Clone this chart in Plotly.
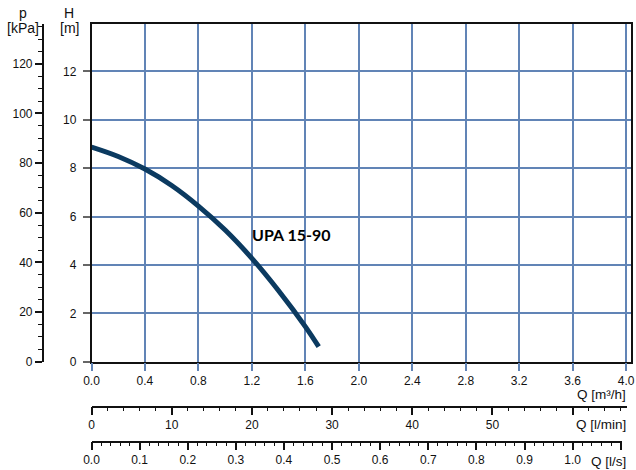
import plotly.graph_objects as go

# ---- data ----
q_m3h = [0.0, 0.2, 0.4, 0.6, 0.8, 1.0, 1.2, 1.4, 1.6, 1.7]
h_m = [8.87, 8.48, 7.96, 7.28, 6.43, 5.44, 4.27, 2.93, 1.45, 0.62]
curve_name = "UPA 15-90"

x_ticks = [0.0, 0.4, 0.8, 1.2, 1.6, 2.0, 2.4, 2.8, 3.2, 3.6, 4.0]
h_ticks = [0, 2, 4, 6, 8, 10, 12]
p_ticks = [0, 20, 40, 60, 80, 100, 120]
lmin_ticks = [0, 10, 20, 30, 40, 50, 60]
lmin_labels = ["0", "10", "20", "30", "40", "50", ""]
ls_ticks = [0.0, 0.1, 0.2, 0.3, 0.4, 0.5, 0.6, 0.7, 0.8, 0.9, 1.0, 1.1]
ls_labels = ["0.0", "0.1", "0.2", "0.3", "0.4", "0.5", "0.6", "0.7", "0.8", "0.9", "1.0", ""]

W, H = 636, 470
px_per_q = 133.65
x0, x_right = 91.5, 631.0
y_bot, y_top = 361.7, 24.3
px_per_m = 24.2
kpa_per_m = 9.75

def fx(px):
    return px / W

def fy(py):
    return (H - py) / H

xmax = (x_right - x0) / px_per_q
hmax = (y_bot - y_top) / px_per_m
pmax = hmax * kpa_per_m
lmin_end, ls_end = 627.0, 622.0
lmin_max = (lmin_end - x0) / px_per_q * 50 / 3
ls_max = (ls_end - x0) / px_per_q / 3.6

GRID = "#6184b6"
NAVY = "#0b3a60"
TXT = "#111111"
FONT = "Liberation Sans, Arial, sans-serif"
YDOM = [fy(y_bot), fy(y_top)]
TF = dict(family=FONT, size=12, color=TXT)

fig = go.Figure()
fig.add_trace(go.Scatter(x=q_m3h, y=h_m, mode="lines", line=dict(color=NAVY, width=5, shape="spline"),
                         showlegend=False, hoverinfo="skip"))
# dummy traces to register the extra axes
fig.add_trace(go.Scatter(x=[0], y=[0], xaxis="x2", yaxis="y3", mode="markers",
                         marker=dict(opacity=0), showlegend=False, hoverinfo="skip"))
fig.add_trace(go.Scatter(x=[0], y=[0], xaxis="x3", yaxis="y4", mode="markers",
                         marker=dict(opacity=0), showlegend=False, hoverinfo="skip"))
fig.add_trace(go.Scatter(x=[0], y=[0], xaxis="x", yaxis="y2", mode="markers",
                         marker=dict(opacity=0), showlegend=False, hoverinfo="skip"))

fig.update_layout(
    template="none",
    width=W, height=H,
    margin=dict(l=0, r=0, t=0, b=0, autoexpand=False),
    paper_bgcolor="white", plot_bgcolor="rgba(0,0,0,0)",
    font=dict(family=FONT, size=12, color=TXT),
    xaxis=dict(domain=[fx(x0), fx(x_right)], range=[0, xmax], tickmode="array", tickvals=x_ticks,
               ticktext=[f"{v:.1f}" for v in x_ticks], automargin=False, tickfont=TF,
               showgrid=True, gridcolor=GRID, gridwidth=1.5, zeroline=False,
               showline=True, linecolor="#111111", linewidth=1.5, mirror=True,
               ticks="outside", ticklen=8, tickcolor=GRID, tickwidth=1.5,
               ticklabelstandoff=-1, anchor="y"),
    yaxis=dict(domain=YDOM, range=[0, hmax], tickmode="array", tickvals=h_ticks, automargin=False,
               tickfont=TF,
               showgrid=True, gridcolor=GRID, gridwidth=1.5, zeroline=False,
               showline=True, linecolor="#111111", linewidth=1.5, mirror=True,
               ticks="outside", ticklen=7, tickcolor="#666666", tickwidth=1.5,
               ticklabelstandoff=4, anchor="x"),
    xaxis2=dict(domain=[fx(x0), fx(lmin_end)], range=[0, lmin_max], anchor="free", position=fy(406.7),
                tickmode="array", tickvals=lmin_ticks, ticktext=lmin_labels, automargin=False,
                tickfont=TF, ticklabelstandoff=-1,
                showgrid=False, zeroline=False, showline=True, linecolor="#111111", linewidth=1.5,
                ticks="outside", ticklen=8, tickcolor="#111111", tickwidth=1.5,
                minor=dict(tickmode="array", tickvals=[v for v in range(2, 67, 2) if v % 10 != 0],
                           ticks="outside", ticklen=4, tickcolor="#111111", tickwidth=1, showgrid=False)),
    xaxis3=dict(domain=[fx(x0), fx(ls_end)], range=[0, ls_max], anchor="free", position=fy(441.7),
                tickmode="array", tickvals=ls_ticks, ticktext=ls_labels, automargin=False,
                tickfont=TF, ticklabelstandoff=-1,
                showgrid=False, zeroline=False, showline=True, linecolor="#111111", linewidth=1.5,
                ticks="outside", ticklen=8, tickcolor="#111111", tickwidth=1.5,
                minor=dict(tickmode="array",
                           tickvals=[round(i * 0.02, 2) for i in range(1, 55) if i % 5 != 0],
                           ticks="outside", ticklen=4, tickcolor="#111111", tickwidth=1, showgrid=False)),
    yaxis2=dict(overlaying="y", anchor="free", position=fx(42.7), side="left", range=[0, pmax],
                tickmode="array", tickvals=p_ticks, showgrid=False, zeroline=False, automargin=False,
                tickfont=TF,
                showline=True, linecolor="#111111", linewidth=1.5,
                ticks="outside", ticklen=7, tickcolor="#111111", tickwidth=1.5,
                minor=dict(tickmode="array", tickvals=[v for v in range(5, 136, 5) if v % 20 != 0],
                           ticks="outside", ticklen=3.5, tickcolor="#111111", tickwidth=1, showgrid=False)),
    yaxis3=dict(domain=YDOM, anchor="x2", visible=False, range=[0, 1], showgrid=False, zeroline=False),
    yaxis4=dict(domain=YDOM, anchor="x3", visible=False, range=[0, 1], showgrid=False, zeroline=False),
)

ann = [
    dict(text="p", x=fx(22.5), y=fy(12.7)),
    dict(text="[kPa]", x=fx(23), y=fy(28)),
    dict(text="H", x=fx(69), y=fy(12.7)),
    dict(text="[m]", x=fx(69), y=fy(28)),
]
for a in ann:
    fig.add_annotation(xref="paper", yref="paper", x=a["x"], y=a["y"], text=a["text"], showarrow=False,
                       xanchor="center", yanchor="middle", font=dict(family=FONT, size=14, color=TXT))
for text, yy in [("Q [m³/h]", 394), ("Q [l/min]", 424), ("Q [l/s]", 461)]:
    fig.add_annotation(xref="paper", yref="paper", x=fx(628), y=fy(yy), text=text, showarrow=False,
                       xanchor="right", yanchor="middle", font=dict(family=FONT, size=13.5, color=TXT))

fig.add_annotation(xref="x", yref="y", x=(291 - x0) / px_per_q, y=(y_bot - 234) / px_per_m,
                   text="<b>" + curve_name + "</b>", showarrow=False, xanchor="center", yanchor="middle",
                   font=dict(family="Lato, Carlito, sans-serif", size=16, color="#000000"))

fig.write_html("out.html", config={"displayModeBar": False},
               post_script="document.body.style.margin='0';document.body.style.overflow='hidden';")
